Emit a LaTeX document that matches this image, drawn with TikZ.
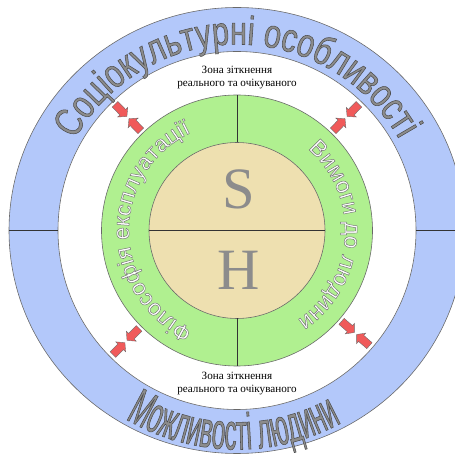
\documentclass[tikz,border=0pt]{standalone}
\usepackage{fontspec}
\setmainfont{Liberation Serif}
\newfontfamily\topringfont[FakeStretch=.76]{Liberation Sans}
\newfontfamily\lowringfont[FakeStretch=.47]{Liberation Sans}
\newfontfamily\greenringfont{Liberation Sans}
\usetikzlibrary{arrows.meta,decorations.text}
\definecolor{ringblue}{RGB}{179,200,250}
\definecolor{ringgreen}{RGB}{176,240,144}
\definecolor{coretan}{RGB}{238,224,176}
\definecolor{arrowred}{RGB}{240,90,90}
\definecolor{edgegray}{RGB}{105,105,105}
\definecolor{wordgray}{RGB}{140,140,140}
\newcommand\darkrim{\special{pdf:literal direct 2 Tr 0.45 w 0.3 0.3 0.3 RG}}
\newcommand\grayrim{\special{pdf:literal direct 2 Tr 0.4 w 0.45 0.45 0.45 RG}}
\tikzset{ring/.style={draw=edgegray,line width=.5pt},
  pairarrow/.style={fill=arrowred,draw=edgegray,line width=.3pt},
  zonetext/.style={font=\fontsize{9.5}{11}\selectfont,align=center},
  coreletter/.style={text=wordgray,font=\fontsize{50}{50}\selectfont}}

\begin{document}
\begin{tikzpicture}[x=.03cm,y=.03cm,>=Stealth]
\useasboundingbox (-237,-224.5) rectangle (217,230.5);
\draw[ring,fill=ringblue] (0,0) ellipse[x radius=228,y radius=223];\draw[ring,fill=white] (0,0) circle[radius=179];
\draw[ring,fill=ringgreen] (0,0) circle[radius=135.5];\draw[ring,fill=coretan] (0,0) circle[radius=88];
\draw[black!80,line width=.5pt] (-228,0)--(-179,0) (179,0)--(228,0) (-88,0)--(88,0) (0,88)--(0,135.5) (0,-88)--(0,-135.5);
\foreach \a in {134,46,225,319}{\foreach \r/\t in {158.5/180,155.5/0}{\filldraw[pairarrow,shift={(\a:\r)},rotate=\a+\t] (0,0)--(-6,7)--(-6,4)--(-17,4)--(-17,-4)--(-6,-4)--(-6,-7)--cycle;}}
\node[coreletter] (s) at (1.5,41.5){S};\node[coreletter] (h) at (1.5,-39.5){H};
\node[zonetext] (zonetop) at (0,153){Зона зіткнення\\реального та очікуваного};
\node[zonetext] (zonebottom) at (0,-153){Зона зіткнення\\реального та очікуваного};
\path[decorate,decoration={text along path,text align=center,text={|\topringfont\fontsize{34.5}{34.5}\selectfont\color{wordgray}\darkrim|Соціокультурні особливості}}] (170:186) arc[start angle=170,end angle=10,radius=186];
\path[decorate,decoration={text along path,text align=center,text={|\lowringfont\fontsize{44}{44}\selectfont\color{wordgray}\darkrim|Можливості людини}}] (200:219) arc[start angle=200,end angle=338,radius=219];
\path[decorate,decoration={text along path,text align=center,text={|\greenringfont\fontsize{19.5}{19.5}\selectfont\color{white}\grayrim|Філософія експлуатації}}] (265:108) arc[start angle=265,end angle=96,radius=108];
\path[decorate,decoration={text along path,text align=center,text={|\greenringfont\fontsize{19.5}{19.5}\selectfont\color{white}\grayrim|Вимоги до людини}}] (80:108) arc[start angle=80,end angle=-87,radius=108];
\end{tikzpicture}
\end{document}
